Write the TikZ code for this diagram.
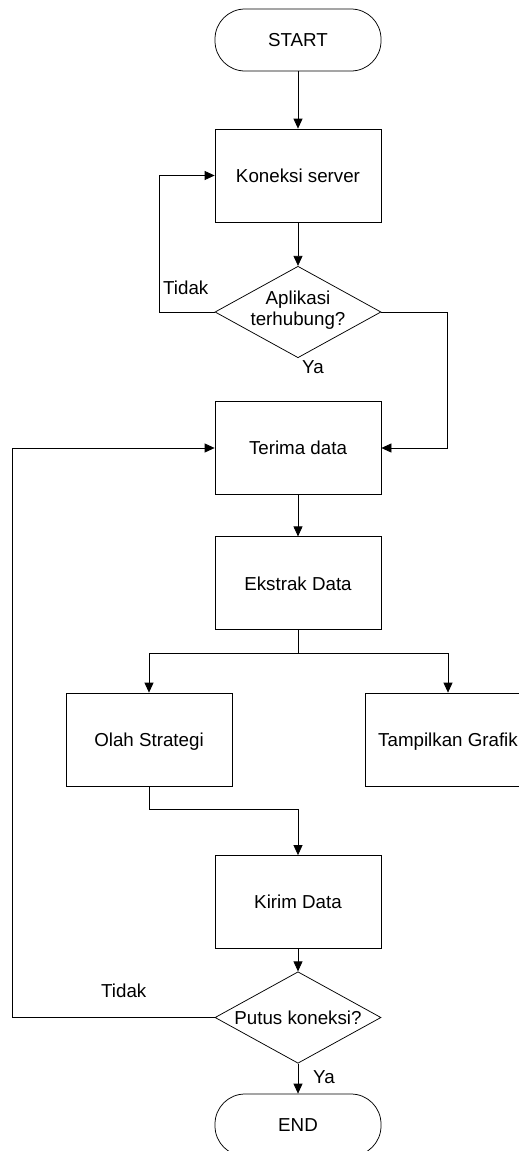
\documentclass[tikz,border=0pt]{standalone}
\usepackage{fontspec}
\setmainfont{Liberation Sans}
\usetikzlibrary{shapes.geometric,arrows.meta}
\tikzset{
  base/.style={draw=black, line width=0.75pt, inner sep=0pt, font=\fontsize{18.75}{21.5}\selectfont},
  procbox/.style={base, rectangle, minimum width=166pt, minimum height=93pt, text height=13.4pt, text depth=0pt},
  termbox/.style={base, rectangle, rounded corners=30pt, minimum width=166pt, minimum height=62pt, text height=13.4pt, text depth=0pt},
  decbox/.style={base, diamond, minimum width=166pt, minimum height=91.5pt},
  lbl/.style={inner sep=0pt, font=\fontsize{18.75}{21.5}\selectfont, text height=13.4pt, text depth=0pt},
  arr/.style={line width=0.75pt, -{Triangle[length=10pt,width=9pt]}},
  ln/.style={line width=0.75pt}
}
\begin{document}
\begin{tikzpicture}[x=1pt,y=-1pt]
\useasboundingbox (0,0) rectangle (519,1151);
\clip (0,0) rectangle (519,1151);
\node[termbox] (start) at (298,40) {START};
\node[procbox] (kon) at (298,175.5) {Koneksi server};
\node[decbox] (d1) at (298,312) {};
\node[lbl, align=center, text height=, text depth=] (d1t) at (298,310) {Aplikasi\\terhubung?};
\node[procbox] (ter) at (298,448) {Terima data};
\node[procbox] (eks) at (298,583.3) {Ekstrak Data};
\node[procbox] (ola) at (149,739.5) {Olah Strategi};
\node[procbox] (tam) at (448,739.5) {Tampilkan Grafik};
\node[procbox] (kir) at (298,902) {Kirim Data};
\node[decbox] (d2) at (298,1017.5) {};
\node[lbl] (d2t) at (298,1017.5) {Putus koneksi?};
\node[termbox] (end) at (298,1125) {END};

\node[lbl, anchor=west] (t1) at (163,288) {Tidak};
\node[lbl, anchor=west] (y1) at (302,367) {Ya};
\node[lbl, anchor=west] (t2) at (101,991) {Tidak};
\node[lbl, anchor=west] (y2) at (313,1077) {Ya};

\coordinate (r1) at (447,448);
\coordinate (l1) at (159,312);
\coordinate (l2) at (12.7,448);

\draw[arr] (start) -- (kon);
\draw[arr] (kon) -- (d1.north);
\draw[arr] (d1.west) -- (l1) |- (kon.west);
\draw[arr] (d1.east) -| (r1) -- (ter.east);
\draw[arr] (ter) -- (eks);
\draw[arr] (eks.south) -- ++(0,22.7) -| (ola.north);
\draw[arr] (eks.south) -- ++(0,22.7) -| (tam.north);
\draw[arr] (ola.south) -- ++(0,23.3) -| (kir.north);
\draw[arr] (kir) -- (d2.north);
\draw[arr] (d2.west) -| (l2) -- (ter.west);
\draw[arr] (d2.south) -- (end.north);
\end{tikzpicture}
\end{document}
